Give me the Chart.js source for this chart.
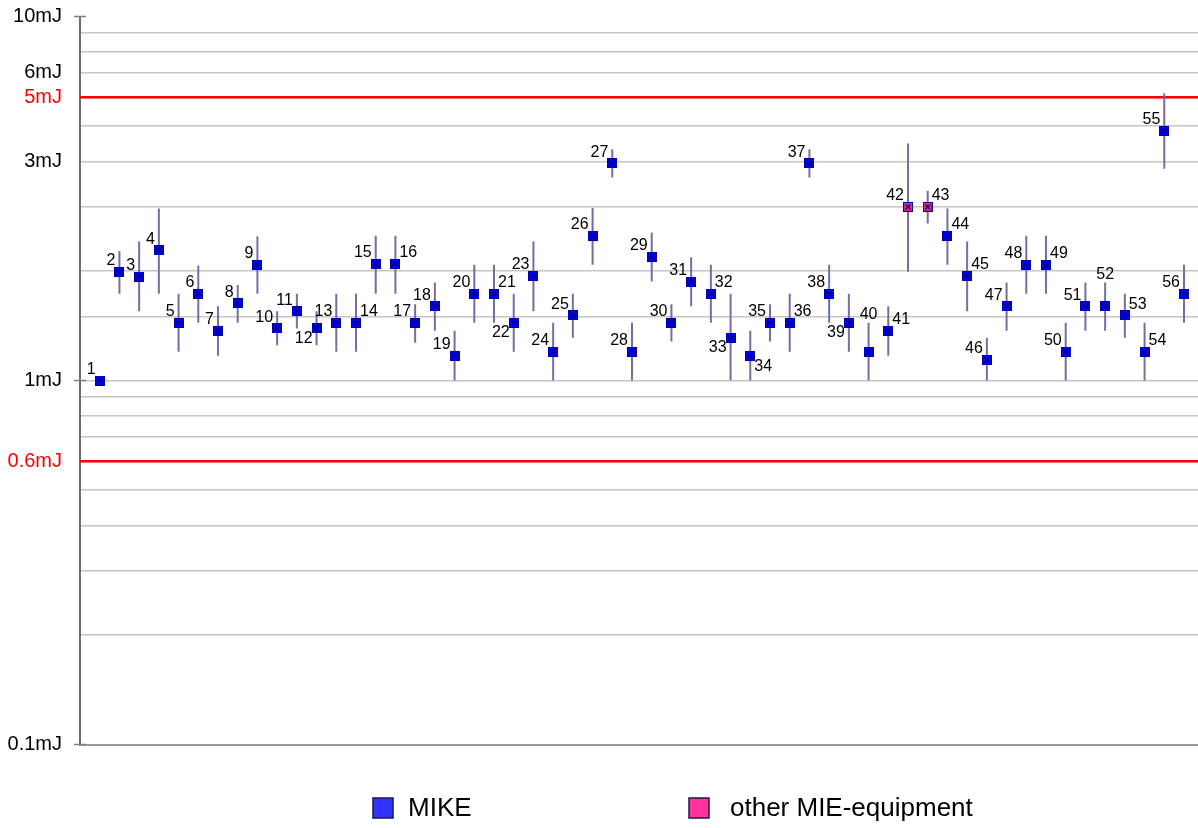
<!DOCTYPE html>
<html>
<head>
<meta charset="utf-8">
<script src="https://cdn.jsdelivr.net/npm/chart.js@4.4.1/dist/chart.umd.min.js"></script>
<style>
html,body{margin:0;padding:0;background:#fff;}
#wrap{width:1198px;height:828px;position:relative;}
</style>
</head>
<body>
<div id="wrap"><canvas id="c"></canvas></div>
<script>
// ---- data ----
const ids = [1,2,3,4,5,6,7,8,9,10,11,12,13,14,15,16,17,18,19,20,21,22,23,24,25,26,27,28,
             29,30,31,32,33,34,35,36,37,38,39,40,41,42,43,44,45,46,47,48,49,50,51,52,53,54,55,56];
const energy = [1.00,1.99,1.93,2.28,1.44,1.73,1.37,1.63,2.08,1.39,1.55,1.39,1.44,1.44,2.09,2.09,1.44,1.60,1.17,1.73,
                1.73,1.44,1.94,1.20,1.51,2.50,3.95,1.20,2.19,1.44,1.87,1.73,1.31,1.17,1.44,1.44,3.95,1.73,1.44,1.20,
                1.37,3.00,3.00,2.50,1.94,1.14,1.60,2.08,2.08,1.20,1.60,1.60,1.51,1.20,4.85,1.73];
const errHigh = [null,2.27,2.41,2.97,1.73,2.07,1.60,1.83,2.49,1.55,1.73,1.55,1.73,1.73,2.50,2.50,1.62,1.86,1.37,2.08,
                 2.08,1.73,2.41,1.44,1.73,2.98,4.32,1.44,2.55,1.62,2.18,2.08,1.73,1.37,1.62,1.73,4.32,2.08,1.73,1.44,
                 1.60,4.48,3.32,2.97,2.41,1.31,1.86,2.50,2.50,1.44,1.86,1.86,1.73,1.44,6.15,2.08];
const errLow = [null,1.73,1.55,1.73,1.20,1.44,1.17,1.44,1.73,1.25,1.39,1.25,1.20,1.20,1.73,1.73,1.27,1.37,1.00,1.44,
                1.44,1.20,1.55,1.00,1.31,2.08,3.61,1.00,1.87,1.28,1.60,1.44,1.00,1.00,1.28,1.20,3.61,1.44,1.20,1.00,
                1.17,1.99,2.70,2.08,1.55,1.00,1.37,1.73,1.73,1.00,1.37,1.37,1.31,1.00,3.82,1.44];
const otherIds = [42, 43];
const seriesNames = ['MIKE', 'other MIE-equipment'];
const tickValues = [10, 7, 6, 4, 1, 0.6, 0.1];
const tickTexts = ['10mJ', '6mJ', '5mJ', '3mJ', '1mJ', '0.6mJ', '0.1mJ'];
const limitValues = [6, 0.6];

// label placement codes (style, not data)
const labelPos = ['L','L','L','L','L','L','L','L','L','L','L','BL','L','R','L','R','L','L','L','L',
                  'R','BL','L','L','L','L','L','L','L','L','L','R','BL','BR','L','R','L','L','BL','A',
                  'R','L','R','R','R','L','L','L','R','L','L','A','R','R','L','L'];

const X_MAX = 56.71;
const FONT = '"Liberation Sans", Arial, sans-serif';
const near = (a, b) => Math.abs(a - b) / b < 1e-6;

function makeMarker(fill) {
  const c = document.createElement('canvas');
  c.width = 10; c.height = 10;
  const g = c.getContext('2d');
  g.fillStyle = fill;
  g.fillRect(0, 0, 10, 10);
  g.strokeStyle = '#0000a0';
  g.lineWidth = 1;
  g.strokeRect(0.5, 0.5, 9, 9);
  g.beginPath();
  g.moveTo(2.5, 2.5); g.lineTo(7.5, 7.5);
  g.moveTo(7.5, 2.5); g.lineTo(2.5, 7.5);
  g.lineWidth = 1.1;
  g.strokeStyle = '#000060';
  g.stroke();
  return c;
}

const mikePts = [], otherPts = [], errPts = [];
ids.forEach((id, i) => {
  const p = {x: id, y: energy[i]};
  (otherIds.includes(id) ? otherPts : mikePts).push(p);
  if (errLow[i] !== null && errHigh[i] !== null) {
    errPts.push({x: id, y: errLow[i]}, {x: id, y: errHigh[i]}, {x: id, y: null});
  }
});

const pointLabels = {
  id: 'pointLabels',
  afterDatasetsDraw(chart) {
    const {ctx, scales: {x, y}} = chart;
    ctx.save();
    ctx.font = '16px ' + FONT;
    ctx.fillStyle = '#000';
    ctx.textBaseline = 'middle';
    ids.forEach((id, i) => {
      const px = x.getPixelForValue(id), py = y.getPixelForValue(energy[i]);
      let tx = px - 4, ty = py - 11, al = 'right';
      switch (labelPos[i]) {
        case 'R': tx = px + 4; ty = py - 11; al = 'left'; break;
        case 'BL': tx = px - 4; ty = py + 10; al = 'right'; break;
        case 'BR': tx = px + 4; ty = py + 11; al = 'left'; break;
        case 'A': tx = px; ty = y.getPixelForValue(errHigh[i]) - 8; al = 'center'; break;
      }
      ctx.textAlign = al;
      ctx.fillText(String(id), tx, ty);
    });
    ctx.restore();
  }
};

const axisTicks = {
  id: 'axisTicks',
  afterDraw(chart) {
    const {ctx, chartArea, scales: {y}} = chart;
    ctx.save();
    ctx.strokeStyle = '#808080';
    ctx.lineWidth = 1.5;
    [10, 1, 0.1].forEach(v => {
      const py = y.getPixelForValue(v);
      ctx.beginPath();
      ctx.moveTo(chartArea.left - 6, py);
      ctx.lineTo(chartArea.left + 6, py);
      ctx.stroke();
    });
    ctx.restore();
  }
};

const customLegend = {
  id: 'customLegend',
  afterDraw(chart) {
    const {ctx} = chart;
    const items = [
      {ds: chart.data.datasets[0], bx: 373, tx: 408},
      {ds: chart.data.datasets[1], bx: 689, tx: 730}
    ];
    ctx.save();
    ctx.font = '26px ' + FONT;
    ctx.textBaseline = 'middle';
    ctx.textAlign = 'left';
    items.forEach(it => {
      ctx.fillStyle = it.ds.backgroundColor;
      ctx.fillRect(it.bx, 798, 20, 20);
      ctx.strokeStyle = it.ds.borderColor;
      ctx.lineWidth = 1.5;
      ctx.strokeRect(it.bx, 798, 20, 20);
      ctx.fillStyle = '#000';
      ctx.fillText(it.ds.label, it.tx, 809);
    });
    ctx.restore();
  }
};

new Chart(document.getElementById('c'), {
  type: 'scatter',
  data: {
    datasets: [
      {label: seriesNames[0], data: mikePts, backgroundColor: '#3333ff', borderColor: '#1a1a50',
       pointStyle: makeMarker('#0000ff'), pointRadius: 5, order: 1},
      {label: seriesNames[1], data: otherPts, backgroundColor: '#ff3399', borderColor: '#1a1a50',
       pointStyle: makeMarker('#ee2290'), pointRadius: 5, order: 1},
      {label: 'err', data: errPts, showLine: true, spanGaps: false, borderColor: '#7070a4',
       borderWidth: 2, pointRadius: 0, order: 3},
      {label: 'upper', data: [{x: 0, y: limitValues[0]}, {x: X_MAX, y: limitValues[0]}], showLine: true,
       borderColor: '#ff0000', borderWidth: 2.5, pointRadius: 0, order: 5},
      {label: 'lower', data: [{x: 0, y: limitValues[1]}, {x: X_MAX, y: limitValues[1]}], showLine: true,
       borderColor: '#ff0000', borderWidth: 2.5, pointRadius: 0, order: 5}
    ]
  },
  options: {
    responsive: true,
    maintainAspectRatio: false,
    animation: false,
    events: [],
    devicePixelRatio: 1,
    layout: {autoPadding: false, padding: {top: 16.5, bottom: 83.5, left: 0, right: 0}},
    plugins: {legend: {display: false}, tooltip: {enabled: false}},
    scales: {
      x: {
        type: 'linear', min: 0, max: X_MAX,
        ticks: {display: false},
        grid: {display: false, drawTicks: false},
        border: {display: true, color: '#9a9a9a', width: 2},
        afterFit(s) { s.height = 0; s.paddingLeft = 0; s.paddingRight = 0; }
      },
      y: {
        type: 'logarithmic', min: 0.1, max: 10,
        afterFit(s) { s.width = 80; s.paddingTop = 0; s.paddingBottom = 0; },
        border: {display: true, color: '#6e6e6e', width: 2},
        grid: {
          color: ctx => (ctx.tick && (near(ctx.tick.value, 10) || near(ctx.tick.value, 0.1))) ? 'rgba(0,0,0,0)' : '#c6c6c6',
          lineWidth: 1.5,
          drawTicks: true,
          tickLength: 6,
          tickColor: 'rgba(0,0,0,0)'
        },
        ticks: {
          autoSkip: false,
          padding: 12,
          font: {family: FONT, size: 20},
          color: ctx => (ctx.tick && limitValues.some(v => near(ctx.tick.value, v))) ? '#ff0000' : '#000000',
          callback: (v) => {
            const k = tickValues.findIndex(t => near(v, t));
            return k >= 0 ? tickTexts[k] : '';
          }
        }
      }
    }
  },
  plugins: [pointLabels, axisTicks, customLegend]
});
</script>
</body>
</html>
